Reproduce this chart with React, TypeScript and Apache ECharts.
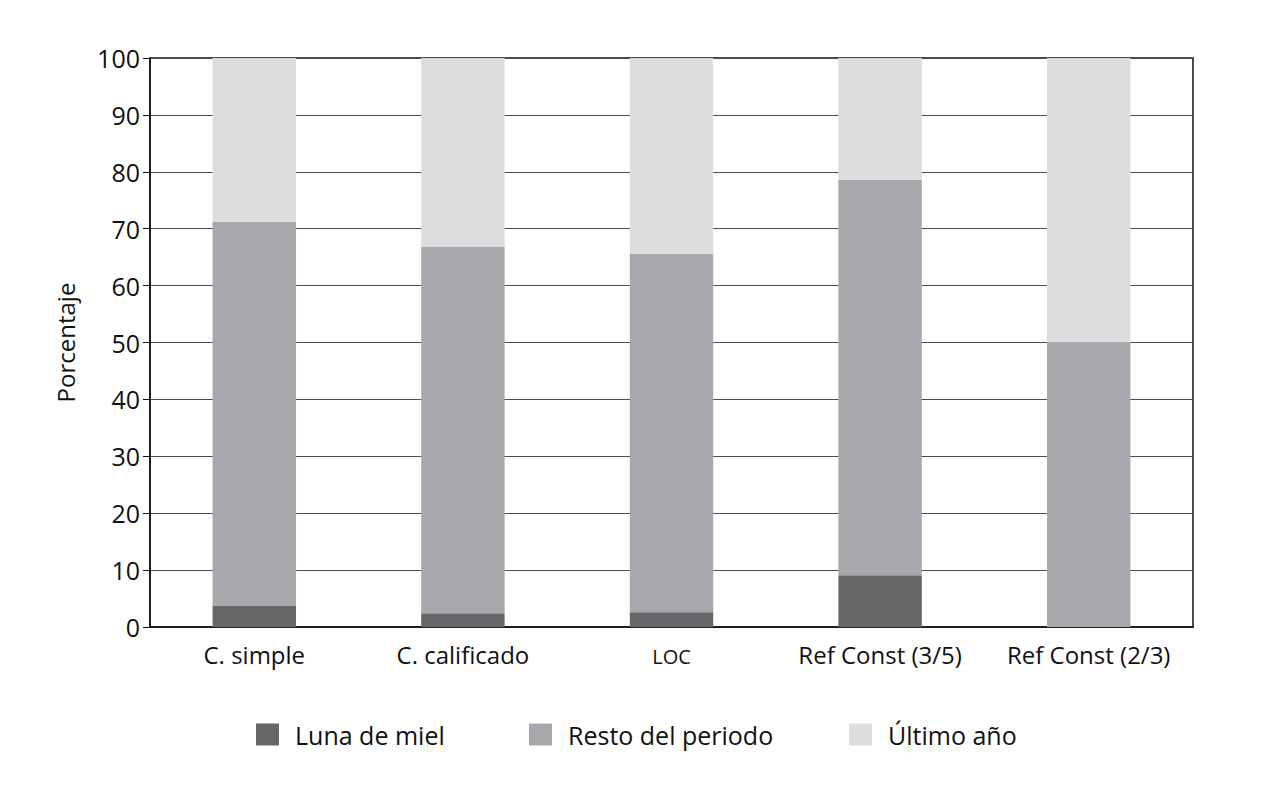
import React, { useEffect, useRef } from "react";
import * as echarts from "echarts";

const categories = ["C. simple", "C. calificado", "LOC", "Ref Const (3/5)", "Ref Const (2/3)"];
const lunaDeMiel = [3.8, 2.4, 2.6, 9.1, 0];
const restoDelPeriodo = [67.4, 64.4, 63.0, 69.5, 50.0];
const ultimoAnio = [28.8, 33.2, 34.4, 21.4, 50.0];
const seriesNames = ["Luna de miel", "Resto del periodo", "Último año"];
const colors = ["#656668", "#a7a8ab", "#dcdddf"];
const FONT = "Open Sans";

export default function App() {
  const ref = useRef<HTMLDivElement>(null);
  useEffect(() => {
    if (!ref.current) return;
    const chart = echarts.init(ref.current, null, { renderer: "svg" });
    const data = [lunaDeMiel, restoDelPeriodo, ultimoAnio];
    const legendLefts = [251, 524, 844];
    chart.setOption({
      animation: false,
      textStyle: { fontFamily: FONT, color: "#111" },
      grid: { left: 150, right: 76, top: 58, bottom: 171, show: true, borderColor: "#111", borderWidth: 1.5 },
      legend: seriesNames.map((n, i) => ({
        data: [n],
        left: legendLefts[i],
        top: 717,
        itemWidth: 23,
        itemHeight: 22,
        icon: "rect",
        textStyle: { fontSize: 25, fontFamily: FONT, color: "#111", padding: [0, 0, 0, 11] },
      })),
      xAxis: {
        type: "category",
        data: categories,
        axisLine: { lineStyle: { color: "#111", width: 1.5 } },
        axisTick: { show: false },
        axisLabel: {
          interval: 0,
          hideOverlap: false,
          fontSize: 24,
          color: "#111",
          margin: 15,
          formatter: (v: string) => (v === "LOC" ? "{s|LOC}" : v),
          rich: { s: { fontSize: 20, color: "#111", fontFamily: FONT, padding: [4, 0, 0, 0] } },
        },
      },
      yAxis: {
        type: "value",
        min: 0,
        max: 100,
        interval: 10,
        name: "Porcentaje",
        nameLocation: "middle",
        nameGap: 73,
        nameTextStyle: { fontSize: 24, color: "#111", fontFamily: FONT },
        axisLine: { show: true, lineStyle: { color: "#111", width: 1.5 } },
        axisTick: { show: true, length: 7, lineStyle: { color: "#111" } },
        axisLabel: { fontSize: 25, color: "#111", margin: 10 },
        splitLine: { lineStyle: { color: "#4d4d4d", width: 1 } },
      },
      series: seriesNames.map((n, i) => ({
        name: n,
        type: "bar",
        stack: "total",
        barWidth: "40%",
        data: data[i],
        itemStyle: { color: colors[i] },
      })),
    });
    return () => chart.dispose();
  }, []);
  return <div ref={ref} style={{ width: 1269, height: 798, position: "absolute", left: 0, top: 0, background: "#fff" }} />;
}
